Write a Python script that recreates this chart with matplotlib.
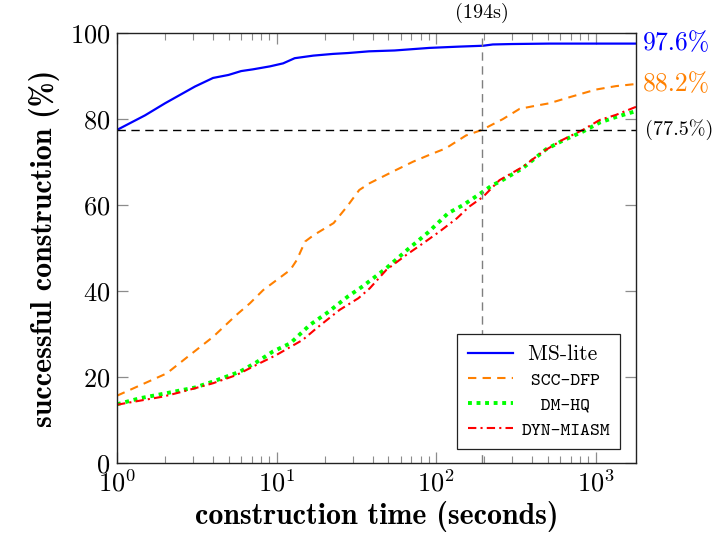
import matplotlib
matplotlib.use("Agg")
import matplotlib.pyplot as plt
import matplotlib.transforms as mtransforms

# --- data ------------------------------------------------------------------
ms_lite_t = [1, 1.5, 2, 3.08, 4.0, 5.0, 6.0, 7.1, 9.1, 11, 13, 17, 22.6, 28,
             38, 55, 91, 140, 197, 227, 300, 513, 1000, 1800]
ms_lite = [77.5, 80.9, 83.7, 87.6, 89.6, 90.3, 91.2, 91.6, 92.3, 93.0, 94.2,
           94.8, 95.2, 95.4, 95.8, 96.0, 96.6, 96.9, 97.1, 97.4, 97.5, 97.6,
           97.6, 97.6]

scc_t = [1, 2.05, 2.87, 4.0, 5.6, 6.8, 8.25, 12.2, 13.4, 15.1, 17.1, 22.8,
         27.6, 33, 38.4, 56.4, 71.8, 91, 115, 154, 194, 262, 334, 404, 513,
         685, 1007, 1343, 1800]
scc = [15.6, 20.8, 25.1, 29.3, 34.4, 37.1, 40.2, 44.9, 47.2, 51.5, 53.0, 55.8,
       59.6, 63.5, 65.1, 68.2, 70.1, 71.7, 73.2, 76.2, 77.5, 80.0, 82.4, 83.0,
       83.7, 85.1, 86.9, 87.7, 88.2]

dm_t = [1, 1.39, 2.05, 3.08, 4.0, 5.9, 7.5, 9.5, 12.2, 16.2, 20.6, 28, 34.8,
        48.8, 65.2, 89, 119, 148, 183, 227, 250, 350, 490, 622, 832, 1060,
        1343, 1800]
dm = [13.6, 15.0, 16.2, 17.5, 18.9, 21.2, 23.4, 25.9, 27.8, 32.1, 34.8, 38.7,
      41.1, 45.3, 49.4, 53.6, 58.1, 60.0, 62.3, 64.7, 65.4, 68.6, 73.0, 75.0,
      77.1, 79.2, 80.5, 81.9]

dyn_t = [1, 1.95, 2.55, 4.0, 5.6, 7.5, 10, 14.6, 17.8, 24.9, 32.6, 38.4, 48.8,
         65.2, 83, 105, 135, 161, 197, 250, 350, 466, 622, 832, 1060, 1343,
         1800]
dyn = [13.5, 15.4, 16.5, 18.5, 20.4, 22.8, 25.1, 28.6, 31.3, 35.6, 38.3, 40.6,
       44.9, 48.4, 51.1, 53.8, 56.9, 59.6, 61.9, 65.8, 68.9, 72.4, 75.2, 77.5,
       79.8, 81.0, 82.9]

marker_time = 194
marker_level = 77.5

plt.rcParams["font.family"] = ["cmr10", "DejaVu Serif"]
plt.rcParams["mathtext.fontset"] = "cm"
plt.rcParams["axes.formatter.use_mathtext"] = True

fig = plt.figure(figsize=(7.17, 5.37), dpi=100)
ax = fig.add_axes([0.1632, 0.1384, 0.7242, 0.7996])

# leading spaces roughly centre the labels in the legend, like pgfplots does
ax.plot(ms_lite_t, ms_lite, color="#0000ff", lw=1.6, label=" MS-lite")
ax.plot(scc_t, scc, color="#ff8000", lw=1.5, ls=(0, (4, 3)),
        label=" SCC-DFP")
ax.plot(dm_t, dm, color="#00ff00", lw=2.8, ls=(0, (1, 1.2)),
        label="  DM-HQ")
ax.plot(dyn_t, dyn, color="#ff0000", lw=1.5, ls=(0, (4, 2, 1, 2)),
        label="DYN-MIASM")

ax.axvline(marker_time, color="#7f7f7f", lw=1.0, ls=(0, (6, 4)))
ax.axhline(marker_level, color="black", lw=1.0, ls=(0, (6, 4)))

ax.set_xscale("log")
ax.set_xlim(1, 1800)
ax.set_ylim(0, 100)
ax.set_yticks([0, 20, 40, 60, 80, 100])

ax.tick_params(which="both", direction="in", top=True, right=True,
               color="#8c8c8c", labelsize=19)
ax.tick_params(which="major", length=8, width=0.9)
ax.tick_params(which="minor", length=4.8, width=0.8)
ax.tick_params(axis="x", pad=5)
ax.tick_params(axis="y", pad=5)
for s in ax.spines.values():
    s.set_linewidth(1.0)
    s.set_color("#222222")

ax.set_xlabel("construction time (seconds)", fontsize=21.5,
              family=["cmb10", "DejaVu Serif"], labelpad=3)
ax.set_ylabel("successful construction (%)", fontsize=21.5,
              family=["cmb10", "DejaVu Serif"], labelpad=7)

right = mtransforms.blended_transform_factory(ax.transAxes, ax.transData)
top = mtransforms.blended_transform_factory(ax.transData, ax.transAxes)
ax.text(1.013, ms_lite[-1], "97.6%", transform=right, color="#0000ff",
        fontsize=18.5, va="center", ha="left")
ax.text(1.013, scc[-1], "88.2%", transform=right, color="#ff8000",
        fontsize=18.5, va="center", ha="left")
ax.text(1.017, marker_level, "(77.5%)", transform=right, color="black",
        fontsize=14.5, va="center", ha="left")
ax.text(marker_time, 1.047, "(194s)", transform=top, color="black",
        fontsize=14.5, va="center", ha="center")

leg = ax.legend(loc="lower right", bbox_to_anchor=(0.969, 0.032),
                fancybox=False, edgecolor="#222222", framealpha=1,
                fontsize=13.5, handlelength=2.4, borderpad=0.55,
                labelspacing=0.42, handletextpad=0.45, borderaxespad=0)
leg.get_frame().set_linewidth(0.9)
for i, txt in enumerate(leg.get_texts()):
    if i == 0:
        txt.set_fontsize(15.5)
    else:
        txt.set_family(["cmtt10", "DejaVu Sans Mono"])

fig.savefig("out.png", dpi=100)
